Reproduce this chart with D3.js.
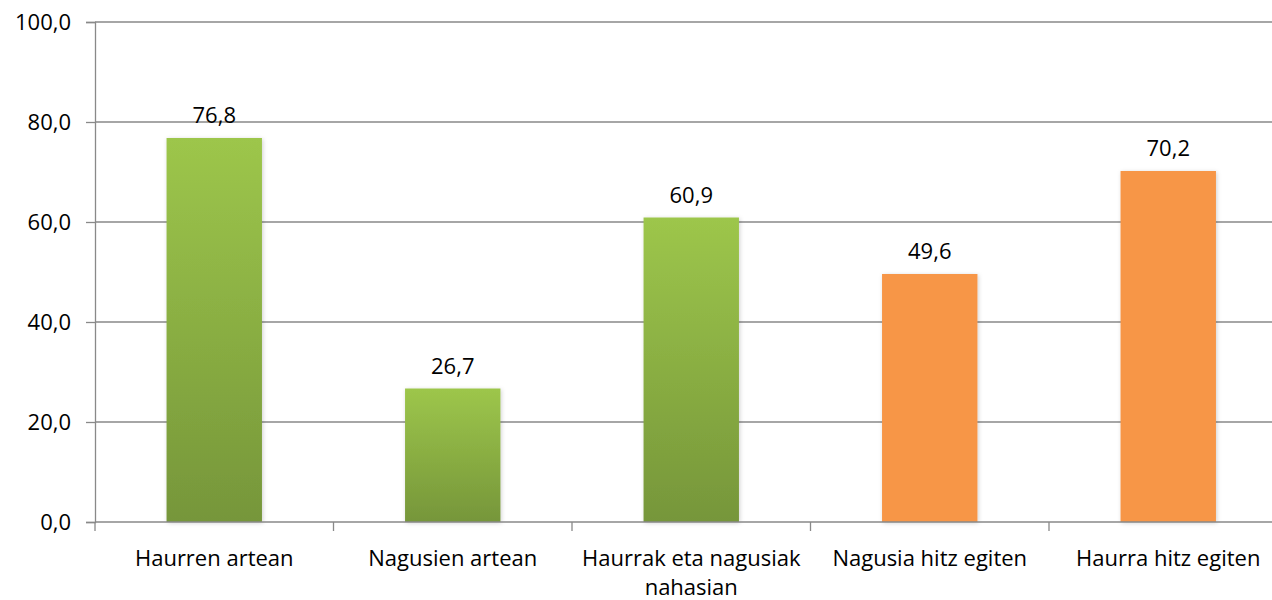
<!DOCTYPE html>
<html>
<head>
<meta charset="utf-8">
<script src="https://cdn.jsdelivr.net/npm/d3@7"></script>
<style>
  body { margin: 0; background: #fff; }
  svg { display: block; font-family: "Open Sans", Calibri, sans-serif; }
</style>
</head>
<body>
<svg id="chart" width="1272" height="600"></svg>
<script>
// categories and values
const categories = ['Haurren artean', 'Nagusien artean', 'Haurrak eta nagusiak nahasian', 'Nagusia hitz egiten', 'Haurra hitz egiten']
const values = [76.8, 26.7, 60.9, 49.6, 70.2]
const colourGroup = ['green', 'green', 'green', 'orange', 'orange']
const yTicks = [0, 20, 40, 60, 80, 100]

const svg = d3.select('#chart')
const plotLeft = 95, plotRight = 1287.5, plotTop = 22, plotBottom = 522
const fontSize = 22

const x = d3.scaleBand().domain(categories).range([plotLeft, plotRight]).paddingInner(0.6).paddingOuter(0.3)
const y = d3.scaleLinear().domain([0, 100]).range([plotBottom, plotTop])
const fmt = v => d3.format('.1f')(v).replace('.', ',')

// gradient for the green bars
const defs = svg.append('defs')
const grad = defs.append('linearGradient').attr('id', 'green').attr('x1', 0).attr('y1', 0).attr('x2', 0).attr('y2', 1)
grad.append('stop').attr('offset', '0%').attr('stop-color', '#9dc64b')
grad.append('stop').attr('offset', '100%').attr('stop-color', '#76963a')
const shadow = defs.append('filter').attr('id', 'shadow').attr('x', '-20%').attr('y', '-20%').attr('width', '140%').attr('height', '140%')
shadow.append('feDropShadow').attr('dx', 1).attr('dy', 1).attr('stdDeviation', 2).attr('flood-color', '#000').attr('flood-opacity', 0.18)

// grid lines
svg.append('g')
  .selectAll('line')
  .data(yTicks.slice(1))
  .join('line')
  .attr('x1', plotLeft).attr('x2', 1272)
  .attr('y1', d => y(d)).attr('y2', d => y(d))
  .attr('stroke', '#898989').attr('stroke-width', 1.3)

// y axis
const yAxis = svg.append('g')
  .attr('transform', `translate(${plotLeft},0)`)
  .call(d3.axisLeft(y).tickValues(yTicks).tickFormat(fmt).tickSize(9).tickPadding(15))
yAxis.select('.domain').attr('stroke', '#898989').attr('stroke-width', 1.3)
yAxis.selectAll('.tick line').attr('stroke', '#898989').attr('stroke-width', 1.3)
yAxis.selectAll('text').attr('font-size', fontSize).attr('fill', '#000').attr('font-family', '"Open Sans", sans-serif')

// bars
svg.append('g')
  .selectAll('rect')
  .data(categories)
  .join('rect')
  .attr('x', d => x(d))
  .attr('width', x.bandwidth())
  .attr('y', (d, i) => y(values[i]))
  .attr('height', (d, i) => y(0) - y(values[i]))
  .attr('fill', (d, i) => colourGroup[i] === 'green' ? 'url(#green)' : '#f79646')
  .attr('filter', 'url(#shadow)')

// value labels
svg.append('g')
  .selectAll('text')
  .data(categories)
  .join('text')
  .attr('x', d => x(d) + x.bandwidth() / 2)
  .attr('y', (d, i) => y(values[i]) - 15)
  .attr('text-anchor', 'middle')
  .attr('font-size', fontSize)
  .text((d, i) => fmt(values[i]))

// x axis
svg.append('line')
  .attr('x1', plotLeft).attr('x2', 1272)
  .attr('y1', plotBottom).attr('y2', plotBottom)
  .attr('stroke', '#898989').attr('stroke-width', 1.3)
const step = x.step()
svg.append('g')
  .selectAll('line')
  .data(d3.range(categories.length + 1))
  .join('line')
  .attr('x1', i => plotLeft + i * step).attr('x2', i => plotLeft + i * step)
  .attr('y1', plotBottom).attr('y2', plotBottom + 9)
  .attr('stroke', '#898989').attr('stroke-width', 1.3)

// category labels, wrapped like the original
const labelLines = [['Haurren artean'], ['Nagusien artean'], ['Haurrak eta nagusiak', 'nahasian'], ['Nagusia hitz egiten'], ['Haurra hitz egiten']]
svg.append('g')
  .selectAll('text')
  .data(categories)
  .join('text')
  .attr('x', d => x(d) + x.bandwidth() / 2)
  .attr('y', 566)
  .attr('text-anchor', 'middle')
  .attr('font-size', fontSize)
  .each(function (d, i) {
    d3.select(this).selectAll('tspan')
      .data(labelLines[i])
      .join('tspan')
      .attr('x', x(d) + x.bandwidth() / 2)
      .attr('dy', (t, j) => j === 0 ? 0 : 29)
      .text(t => t)
  })
</script>
</body>
</html>
